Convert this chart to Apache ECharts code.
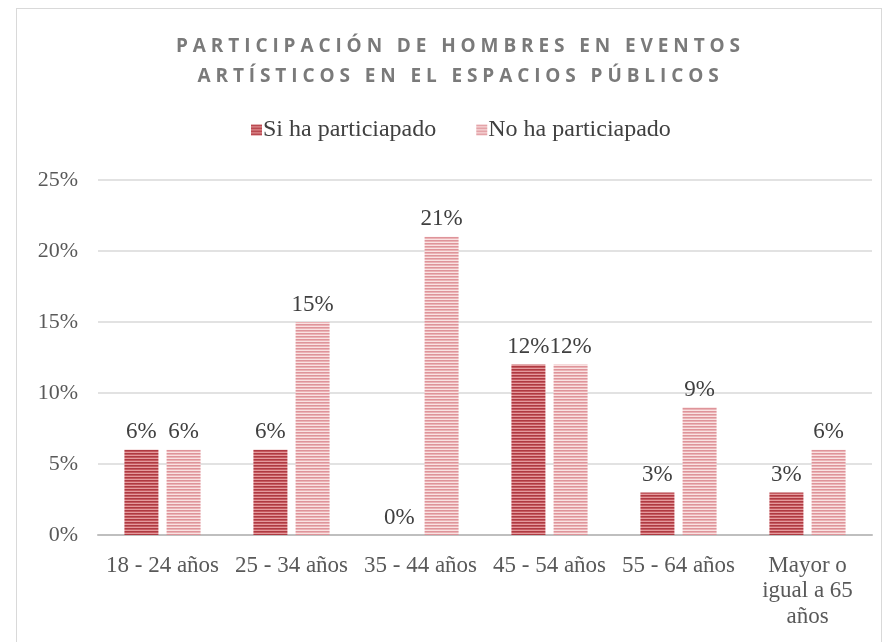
<!DOCTYPE html>
<html>
<head>
<meta charset="utf-8">
<script src="https://cdn.jsdelivr.net/npm/echarts@6/dist/echarts.min.js"></script>
<style>
  html, body { margin: 0; padding: 0; background: #fff; }
  #wrap { position: relative; width: 883px; height: 642px; overflow: hidden; }
  #frame { position: absolute; left: 16px; top: 8px; width: 866px; height: 700px;
           border: 1.5px solid #d9d9d9; box-sizing: border-box; }
  #chart { position: absolute; left: 0; top: 0; width: 883px; height: 642px; }
  #title { position: absolute; left: 0; top: 30px; width: 921px; text-align: center;
           font-family: "Open Sans", sans-serif; font-weight: 700; font-size: 19px;
           letter-spacing: 4.9px; line-height: 30px; color: #7a7a7a; pointer-events: none; }
</style>
</head>
<body>
<div id="wrap">
  <div id="frame"></div>
  <div id="chart"></div>
  <div id="title">PARTICIPACIÓN DE HOMBRES EN EVENTOS<br>ARTÍSTICOS EN EL ESPACIOS PÚBLICOS</div>
</div>
<script>
// Age groups and share of men (%) per answer
const categories = ['18 - 24 años', '25 - 34 años', '35 - 44 años', '45 - 54 años', '55 - 64 años', 'Mayor o igual a 65 años'];
const siParticipado = [6, 6, 0, 12, 3, 3];
const noParticipado = [6, 15, 21, 12, 9, 6];
const seriesNames = ['Si ha particiapado', 'No ha particiapado'];
const yTicks = [0, 5, 10, 15, 20, 25];

// Horizontal stripe fill used by the bars
function stripes(colors) {
  const c = document.createElement('canvas');
  c.width = 4; c.height = colors.length;
  const ctx = c.getContext('2d');
  colors.forEach((col, i) => { ctx.fillStyle = col; ctx.fillRect(0, i, 4, 1); });
  return { image: c, repeat: 'repeat' };
}
const darkFill = stripes(['#ae3a42', '#c65a60', '#e49a9d']);
const lightFill = stripes(['#de949a', '#ebb3b6', '#f9e2e2']);

// Break long category names into short lines
function wrapLabel(s) {
  if (s.length <= 14) return s;
  const words = s.split(' ');
  const lines = [];
  let cur = '';
  words.forEach(w => {
    const next = cur ? cur + ' ' + w : w;
    if (next.length > 10 && cur) { lines.push(cur); cur = w; } else { cur = next; }
  });
  if (cur) lines.push(cur);
  return lines.join('\n');
}

const serif = '"Liberation Serif", "Times New Roman", serif';
const chart = echarts.init(document.getElementById('chart'), null, { renderer: 'canvas' });

const labelCfg = {
  show: true, position: 'top', distance: 6,
  fontFamily: serif, fontSize: 23, color: '#404040',
  formatter: p => p.value + '%'
};

chart.setOption({
  animation: false,
  legend: {
    top: 113, left: 246, itemWidth: 11, itemHeight: 11, itemGap: 40,
    icon: 'rect',
    textStyle: { fontFamily: serif, fontSize: 24, color: '#404040', padding: [0, 0, 0, -4] },
    data: seriesNames
  },
  grid: { left: 98, right: 11, top: 180, bottom: 107, containLabel: false },
  xAxis: {
    type: 'category', data: categories,
    axisLine: { lineStyle: { color: '#bfbfbf', width: 2 } },
    axisTick: { show: false },
    axisLabel: {
      interval: 0, margin: 18, lineHeight: 25.5,
      fontFamily: serif, fontSize: 23, color: '#595959',
      formatter: wrapLabel
    }
  },
  yAxis: {
    type: 'value', min: yTicks[0], max: yTicks[yTicks.length - 1], interval: 5,
    axisLine: { show: false }, axisTick: { show: false },
    splitLine: { lineStyle: { color: '#d9d9d9', width: 1.5 } },
    axisLabel: { margin: 20, fontFamily: serif, fontSize: 22, color: '#595959', formatter: v => v + '%' }
  },
  series: [
    { name: seriesNames[0], type: 'bar', data: siParticipado, barWidth: 34, barGap: '24%',
      itemStyle: { color: darkFill }, label: labelCfg },
    { name: seriesNames[1], type: 'bar', data: noParticipado, barWidth: 34,
      itemStyle: { color: lightFill }, label: labelCfg }
  ]
});
</script>
</body>
</html>
